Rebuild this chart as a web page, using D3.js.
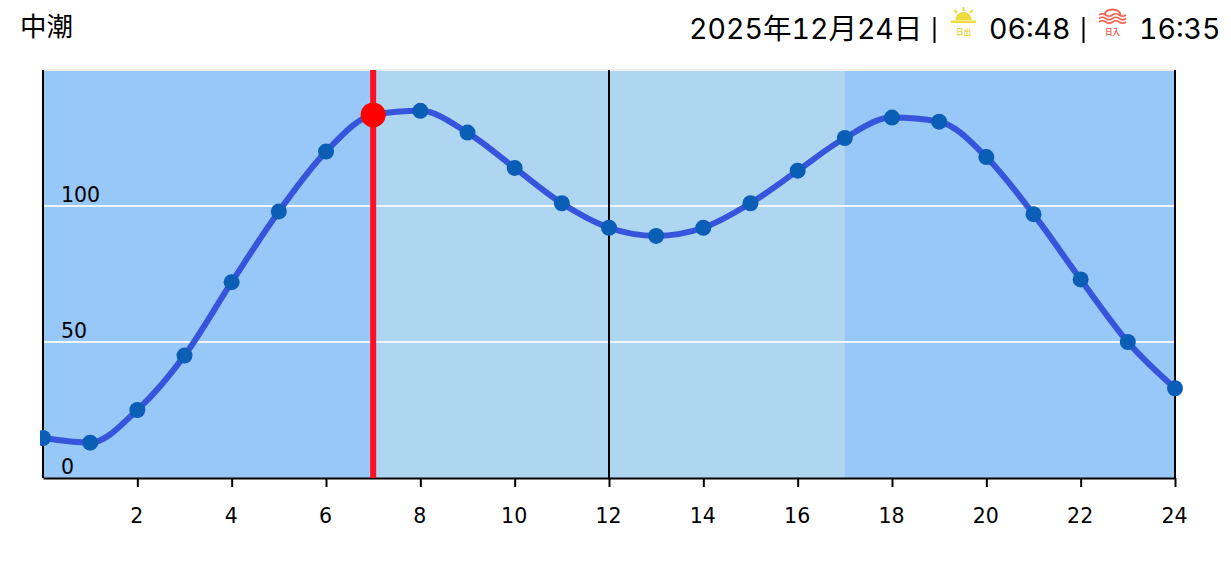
<!DOCTYPE html>
<html><head><meta charset="utf-8">
<script src="https://cdn.jsdelivr.net/npm/d3@7"></script>
<style>html,body{margin:0;padding:0;background:#fff;overflow:hidden}svg{display:block}
.hd{font-family:Inter,"Noto Sans CJK JP","Liberation Sans",sans-serif;font-size:28.5px;fill:#000;font-variant-numeric:tabular-nums;font-feature-settings:"tnum" 1}
.tt{font-family:"Noto Sans CJK JP",sans-serif;font-size:26.5px;fill:#000}
.ax{font-family:"DejaVu Sans",sans-serif;font-size:20.5px;fill:#000}</style>
</head><body><svg id="c" width="1231" height="568"></svg>
<script>
const hours=[0,1,2,3,4,5,6,7,8,9,10,11,12,13,14,15,16,17,18,19,20,21,22,23,24];
const tide=[14.7,13,25,45,72,98,120,133.5,135,127,114,101,92,89,92,101,113,125,132.5,131,118,97,73,50,33];
const xTicks=[2,4,6,8,10,12,14,16,18,20,22,24];
const yTicks=[0,50,100];
const dayBand=[7,17];
const nowHour=7,nowValue=133.5;
const titleLeft="中潮",dateText="2025年12月24日",riseText="06:48",setText="16:35";

const svg=d3.select("#c");
const x=d3.scaleLinear().domain([0,24]).range([43,1175]);
const y=d3.scaleLinear().domain([0,150]).range([478,70]);

svg.append("rect").attr("x",x(0)).attr("y",y(150)).attr("width",x(24)-x(0)).attr("height",y(0)-y(150)).attr("fill","#98c8f8");
svg.append("rect").attr("x",x(dayBand[0])).attr("y",y(150)).attr("width",x(dayBand[1])-x(dayBand[0])).attr("height",y(0)-y(150)).attr("fill","#aed6f1");

[50,100,150].forEach(v=>svg.append("line").attr("x1",x(0)).attr("x2",x(24)).attr("y1",y(v)).attr("y2",y(v))
  .attr("stroke",v===150?"#eeeeee":"#f2f6f8").attr("stroke-width",2));

[0,12,24].forEach(h=>svg.append("line").attr("x1",x(h)).attr("x2",x(h)).attr("y1",y(150)).attr("y2",y(0)).attr("stroke","#000").attr("stroke-width",2));

const xAxis=d3.axisBottom(x).tickValues(xTicks).tickSize(9).tickSizeOuter(0);
const gx=svg.append("g").attr("transform",`translate(0,${y(0)})`).call(xAxis);
gx.select(".domain").attr("stroke","#000").attr("stroke-width",2);
gx.selectAll(".tick line").attr("stroke","#000").attr("stroke-width",2);
gx.selectAll("text").attr("class","ax").attr("font-family",null).attr("font-size",null).attr("y",45).attr("dy",0).attr("x",-1);

svg.selectAll(".yl").data(yTicks).join("text").attr("class","ax").attr("x",61)
  .attr("y",d=>y(d)-4).text(d=>d);

svg.append("line").attr("x1",x(nowHour)).attr("x2",x(nowHour)).attr("y1",y(150)).attr("y2",y(0)).attr("stroke","#ff0f24").attr("stroke-width",6);

svg.append("defs").append("clipPath").attr("id","cl").append("rect").attr("x",40).attr("y",0).attr("width",1191).attr("height",568);
const g=svg.append("g").attr("clip-path","url(#cl)");
const line=d3.line().x((d,i)=>x(hours[i])).y(d=>y(d)).curve(d3.curveMonotoneX);
g.append("path").attr("d",line(tide)).attr("fill","none").attr("stroke","#3755dc").attr("stroke-width",6).attr("stroke-linejoin","round");
g.selectAll(".pt").data(tide).join("circle").attr("cx",(d,i)=>x(hours[i])).attr("cy",d=>y(d)).attr("r",8).attr("fill","#0a5eb5");
g.append("circle").attr("cx",x(nowHour)).attr("cy",y(nowValue)).attr("r",12.5).attr("fill","#ff0000");

svg.append("text").attr("class","tt").attr("x",20).attr("y",36).text(titleLeft);
svg.append("text").attr("class","hd").attr("x",689).attr("y",39).text(dateText);
svg.append("line").attr("x1",934.5).attr("x2",934.5).attr("y1",17).attr("y2",43).attr("stroke","#000").attr("stroke-width",2);
svg.append("text").attr("class","hd").attr("x",989).attr("y",39).text(riseText);
svg.append("line").attr("x1",1083.5).attr("x2",1083.5).attr("y1",17).attr("y2",43).attr("stroke","#000").attr("stroke-width",2);
svg.append("text").attr("class","hd").attr("x",1139).attr("y",39).text(setText);

// sunrise icon
const s=svg.append("g").attr("transform","translate(963.5,0)");
s.append("path").attr("d","M-8,20 A8,8 0 0 1 8,20 Z").attr("fill","#efdc3c");
s.append("rect").attr("x",-12.5).attr("y",20.5).attr("width",25).attr("height",2.5).attr("fill","#efdc3c");
[[0,7,0,11],[-9,10,-6.5,13],[9,10,6.5,13]].forEach(a=>s.append("line").attr("x1",a[0]).attr("y1",a[1]).attr("x2",a[2]).attr("y2",a[3]).attr("stroke","#efdc3c").attr("stroke-width",2));
s.append("text").attr("x",0).attr("y",35).attr("text-anchor","middle").attr("font-size",7.5).attr("font-weight",700).attr("font-family","Noto Sans CJK JP").attr("fill","#e6d84e").text("日出");
// sunset icon
const t=svg.append("g").attr("transform","translate(1112.5,0)");
t.append("path").attr("d","M-8,15 A8,5.5 0 0 1 8,15").attr("fill","none").attr("stroke","#f2604c").attr("stroke-width",1.8);
[15,18.5,22].forEach(yy=>t.append("path").attr("d",`M-13.5,${yy} q3.4,-2.6 6.75,0 t6.75,0 t6.75,0 t6.75,0`).attr("fill","none").attr("stroke","#f2604c").attr("stroke-width",1.6));
t.append("text").attr("x",0).attr("y",35).attr("text-anchor","middle").attr("font-size",7.5).attr("font-weight",700).attr("font-family","Noto Sans CJK JP").attr("fill","#f0675a").text("日入");
</script></body></html>
